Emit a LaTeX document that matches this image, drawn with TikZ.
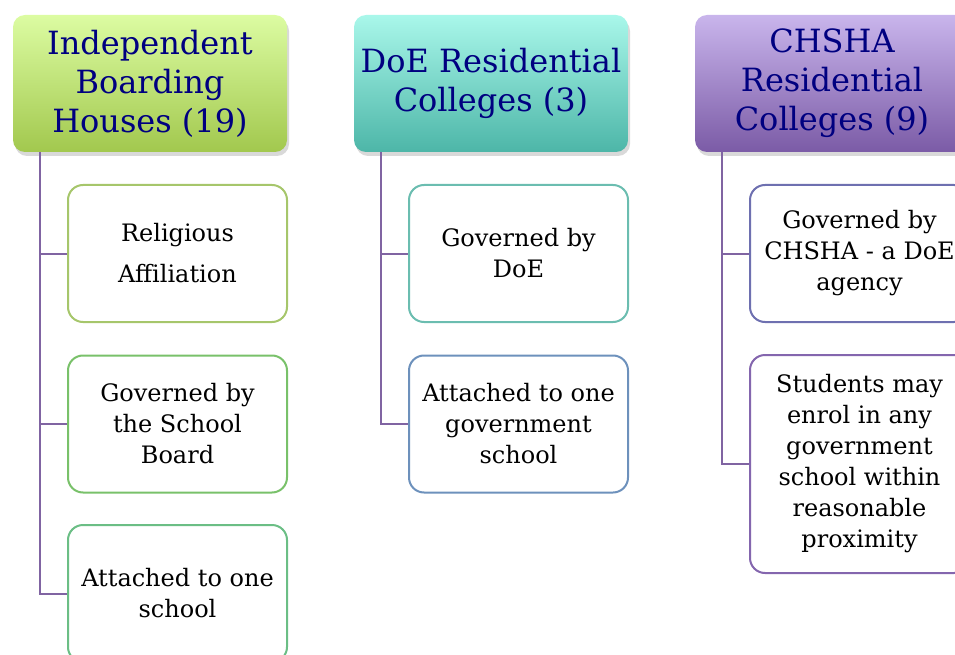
\documentclass[tikz,border=0pt]{standalone}
\usepackage{fontspec}
\setmainfont{DejaVu Serif}
\usetikzlibrary{shadows}

\definecolor{headtext}{HTML}{000080}
\definecolor{linkline}{HTML}{8064A2}
\definecolor{greenTop}{HTML}{DCFCA2}
\definecolor{greenBot}{HTML}{A2C84E}
\definecolor{tealTop}{HTML}{A9F7EA}
\definecolor{tealBot}{HTML}{4DB6A8}
\definecolor{violetTop}{HTML}{C9B5EC}
\definecolor{violetBot}{HTML}{7B5BA6}
\definecolor{edgeA}{HTML}{A6C66B}
\definecolor{edgeB}{HTML}{79C16A}
\definecolor{edgeC}{HTML}{6BBE85}
\definecolor{edgeD}{HTML}{6BBDB0}
\definecolor{edgeE}{HTML}{6D91BC}
\definecolor{edgeF}{HTML}{6E70B0}
\definecolor{edgeG}{HTML}{8466AE}

\tikzset{
	every head/.style={rounded corners=12pt, minimum width=274pt, minimum height=137pt,
		inner sep=0pt, align=center, text=headtext, font=\fontsize{32}{39}\selectfont,
		drop shadow={opacity=0.3, shadow xshift=2pt, shadow yshift=-4pt}},
	every leaf/.style={draw, rounded corners=15pt, fill=white, line width=2pt,
		minimum width=219pt, minimum height=137pt, inner sep=0pt, align=center,
		font=\fontsize{24}{31}\selectfont},
	link/.style={draw=linkline, line width=2pt},
}

\begin{document}
\begin{tikzpicture}[x=1pt, y=-1pt]
		\useasboundingbox (0,0) rectangle (955,655);
		\clip (0,0) rectangle (955,655);
		
		\foreach \t/\c [count=\x] in {{Independent\\Boarding\\Houses (19)}/green,
			{DoE Residential\\Colleges (3)}/teal,
			{CHSHA\\Residential\\Colleges (9)}/violet}
		\node [every head/.try, top color=\c Top, bottom color=\c Bot] (head-\x) at (150+341*\x-341,83.5) {\t};
		
		% first column
		\node [every leaf/.try, draw=edgeA, font=\fontsize{24}{41}\selectfont] (leaf-1-1) at (177.5,253.5) {Religious\\Affiliation};
		\node [every leaf/.try, draw=edgeB] (leaf-1-2) at (177.5,424) {Governed by\\the School\\Board};
		\node [every leaf/.try, draw=edgeC] (leaf-1-3) at (177.5,593.5) {Attached to one\\school};
		
		% second column
		\node [every leaf/.try, draw=edgeD] (leaf-2-1) at (518.5,253.5) {Governed by\\DoE};
		\node [every leaf/.try, draw=edgeE] (leaf-2-2) at (518.5,424) {Attached to one\\government\\school};
		
		% third column
		\node [every leaf/.try, draw=edgeF] (leaf-3-1) at (859.5,253.5) {Governed by\\CHSHA - a DoE\\agency};
		\node [every leaf/.try, draw=edgeG, minimum height=218pt] (leaf-3-2) at (859.5,464) {Students may\\enrol in any\\government\\school within\\reasonable\\proximity};
		
		\foreach \i/\j in {1/1,1/2,1/3,2/1,2/2,3/1,3/2}
		\draw [link] ([xshift=27pt]head-\i.south west) |- (leaf-\i-\j.west);
		
\end{tikzpicture}
\end{document}
